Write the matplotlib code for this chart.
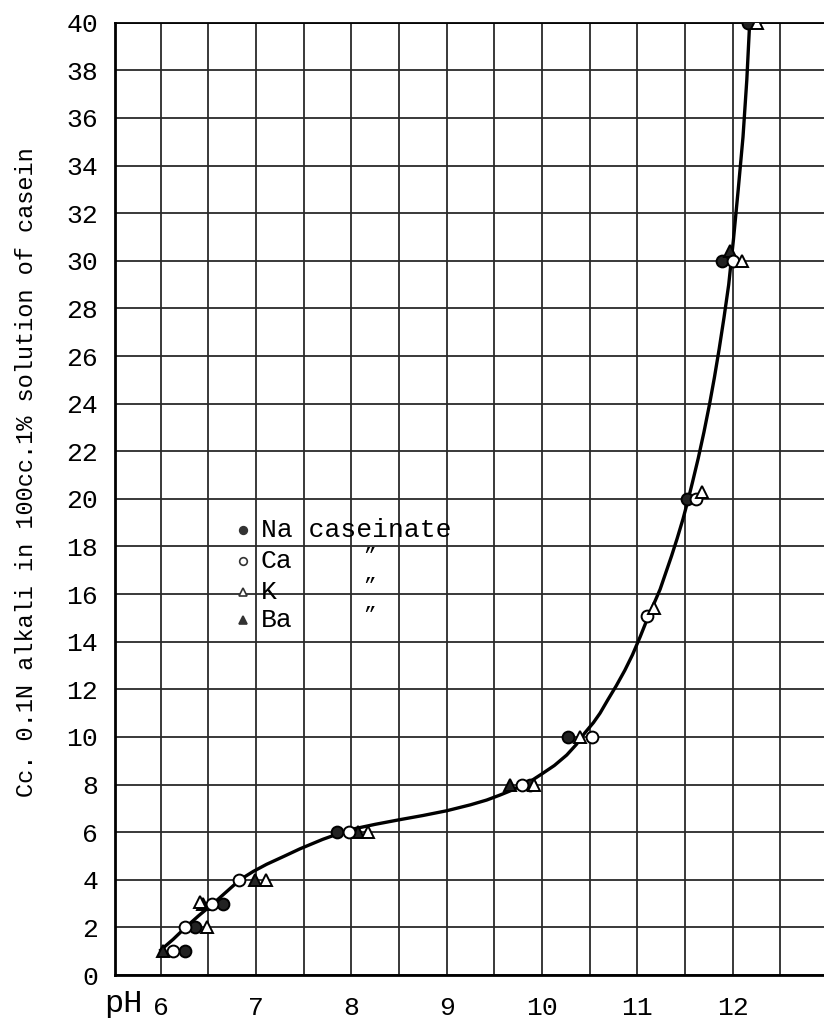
import matplotlib
matplotlib.use("Agg")
import matplotlib.pyplot as plt
from matplotlib.ticker import MultipleLocator

# data (pH, cc 0.1N alkali)
na_ph = [6.25, 6.36, 6.65, 7.85, 9.87, 10.27, 11.52, 11.89, 12.16]
na_cc = [1, 2, 3, 6, 8, 10, 20, 30, 40]

ca_ph = [6.13, 6.25, 6.54, 6.82, 7.98, 9.79, 10.53, 11.10, 11.62, 12.00]
ca_cc = [1, 2, 3, 4, 6, 8, 10, 15.1, 20, 30]

k_ph = [6.48, 6.41, 7.10, 8.17, 9.92, 10.40, 11.18, 11.68, 12.10, 12.26]
k_cc = [2, 3.05, 4, 6, 8, 10, 15.4, 20.3, 30, 40]

ba_ph = [6.02, 6.44, 6.99, 8.07, 9.66, 11.97]
ba_cc = [1, 3, 4, 6, 8, 30.4]

# hand drawn curve
curve_ph = [6.00, 6.13, 6.26, 6.40, 6.55, 6.69, 6.83, 6.97, 7.11, 7.30, 7.46,
            7.70, 7.98, 8.25, 8.50, 8.75, 9.00, 9.25, 9.42, 9.56, 9.67, 9.78,
            9.90, 10.00, 10.13, 10.26, 10.36, 10.45, 10.54, 10.61, 10.69,
            10.78, 10.87, 10.95, 11.03, 11.10, 11.17, 11.24, 11.30, 11.36,
            11.42, 11.48, 11.53, 11.58, 11.64, 11.70, 11.76, 11.81, 11.86,
            11.91, 11.96, 12.01, 12.06, 12.11, 12.15, 12.18]
curve_cc = [1.05, 1.5, 2.0, 2.5, 3.0, 3.5, 4.0, 4.35, 4.65, 5.0, 5.3,
            5.7, 6.1, 6.33, 6.52, 6.7, 6.9, 7.15, 7.35, 7.56, 7.74, 7.95,
            8.19, 8.45, 8.8, 9.24, 9.68, 10.17, 10.6, 11.0, 11.55,
            12.15, 12.8, 13.45, 14.2, 14.9, 15.55, 16.2, 16.9, 17.6,
            18.35, 19.15, 19.9, 20.7, 21.7, 22.8, 24.0, 25.1, 26.3,
            27.6, 29.0, 30.9, 33.0, 35.2, 37.6, 40.0]

legend_names = ["Na caseinate", "Ca", "K", "Ba"]
legend_ditto = ["", "\u201d", "\u201d", "\u201d"]
legend_cc = [18.7, 17.4, 16.1, 14.9]

x_ticks = [6, 7, 8, 9, 10, 11, 12]
y_ticks = list(range(0, 41, 2))

font = "Liberation Mono"
plt.rcParams["font.family"] = [font, "DejaVu Sans"]

fig = plt.figure(figsize=(8.24, 10.18), dpi=100)
ax = fig.add_axes([0.1396, 0.0422, 0.8604, 0.9355])
ax.set_xlim(5.52, 12.96)
ax.set_ylim(0, 40)

ax.set_xticks(x_ticks)
ax.xaxis.set_minor_locator(MultipleLocator(0.5))
ax.set_yticks(y_ticks)
ax.grid(True, which="both", color="#2a2a2a", lw=1.3)
ax.set_axisbelow(True)
ax.tick_params(which="both", length=0)
ax.tick_params(axis="y", labelsize=19, pad=12)
ax.tick_params(axis="x", labelsize=19, pad=15)

for side in ["left", "bottom"]:
    ax.spines[side].set_linewidth(2.0)
ax.spines["top"].set_linewidth(1.3)
ax.spines["right"].set_visible(False)

ax.plot(curve_ph, curve_cc, color="black", lw=2.4, zorder=3)

mk = dict(ms=8.5, mew=1.4, mec="black", ls="none", zorder=4)
ax.plot(na_ph, na_cc, marker="o", mfc="#222222", **mk)
ax.plot(ba_ph, ba_cc, marker="^", mfc="#222222", **mk)
ax.plot(ca_ph, ca_cc, marker="o", mfc="white", **mk)
ax.plot(k_ph, k_cc, marker="^", mfc="white", **mk)

# legend drawn inside the grid like the original
leg_marks = [("o", "#333333"), ("o", "white"), ("^", "white"), ("^", "#333333")]
for (m, fc), name, dit, yy in zip(leg_marks, legend_names, legend_ditto, legend_cc):
    ax.plot([6.86], [yy], marker=m, mfc=fc, mec="#333333", ms=5.5, mew=1.2,
            ls="none", zorder=5)
    ax.text(7.05, yy, name, fontsize=19, va="center", ha="left", zorder=5)
    if dit:
        ax.text(8.19, yy + 0.2, dit, fontsize=15, va="center", ha="center", zorder=5)

fig.text(123 / 824, 1 - 1004 / 1018, "pH", fontsize=23, ha="center", va="center")
fig.text(27 / 824, 1 - 472 / 1018, "Cc. 0.1N alkali in 100cc.1% solution of casein",
         fontsize=17, rotation=90, ha="center", va="center")

fig.savefig("out.png", dpi=100)
